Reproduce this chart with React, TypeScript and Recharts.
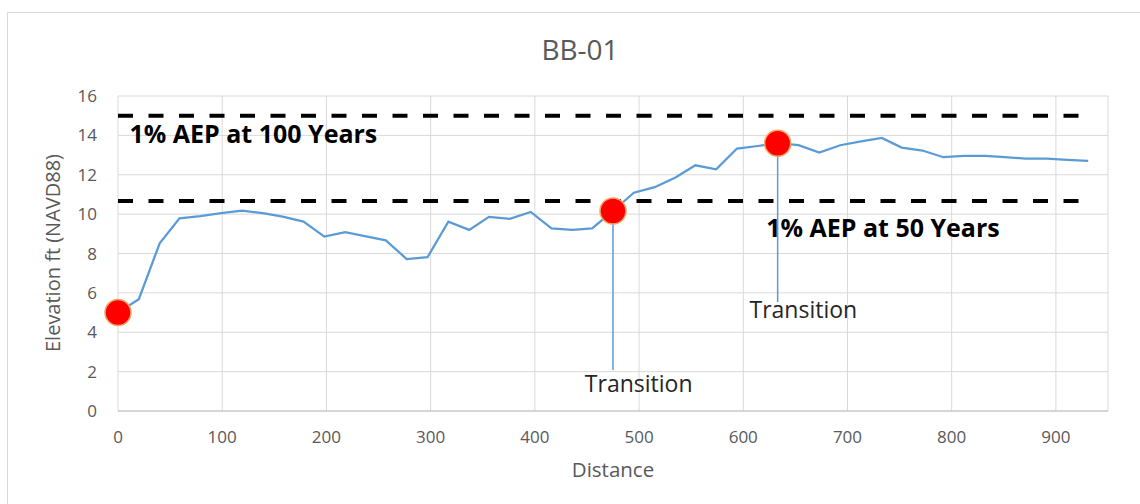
import {
  CartesianGrid,
  ComposedChart,
  Line,
  ReferenceDot,
  ReferenceLine,
  XAxis,
  YAxis,
} from "recharts";

// surveyed profile, distance along transect (ft) vs ground elevation (ft NAVD88)
const distances = [
  0, 20, 40, 59, 79, 99, 119, 139, 158, 178, 198, 218, 238, 257, 277, 297,
  317, 337, 356, 376, 396, 416, 436, 455, 475, 495, 515, 535, 554, 574, 594,
  614, 633, 653, 673, 693, 713, 733, 752, 772, 792, 812, 832, 851, 871, 891,
  911, 931,
];
const elevations = [
  5.0, 5.68, 8.52, 9.79, 9.9, 10.05, 10.18, 10.05, 9.87, 9.62, 8.86, 9.08,
  8.87, 8.67, 7.72, 7.81, 9.62, 9.2, 9.86, 9.76, 10.11, 9.28, 9.2, 9.28, 10.16,
  11.09, 11.37, 11.86, 12.48, 12.28, 13.33, 13.46, 13.6, 13.5, 13.13, 13.5,
  13.69, 13.87, 13.38, 13.23, 12.89, 12.96, 12.96, 12.89, 12.82, 12.82, 12.75,
  12.7,
];

// flood levels
const aepLevels = [15.0, 10.67];
const aepNames = ["1% AEP at 100 Years", "1% AEP at 50 Years"];
const aepSpan = [0, 930];
const aepLabelDistance = [11, 622];
const aepLabelElevation = [13.6, 8.84];

// transition points (indexes into the profile)
const transitionIndex = [0, 24, 32];
const labelledTransitions = [24, 32];
const leaderEndElevation = [2.08, 5.54];
const transitionLabelDistance = [448, 606];
const transitionLabelElevation = [0.97, 4.72];

const xTicks = [0, 100, 200, 300, 400, 500, 600, 700, 800, 900];
const yTicks = [0, 2, 4, 6, 8, 10, 12, 14, 16];

const FONT = "'Open Sans', sans-serif";
const GREY = "#595959";

const profile = distances.map((d, i) => ({
  distance: d,
  elevation: elevations[i],
}));

const aepLines = aepLevels.map((level) =>
  aepSpan.map((d) => ({ distance: d, elevation: level }))
);

const textShape =
  (text: string, style: Record<string, any>) => (props: any) =>
    (
      <text x={props.cx} y={props.cy} fontFamily={FONT} {...style}>
        {text}
      </text>
    );

export default function App() {
  return (
    <div
      style={{
        position: "absolute",
        left: 0,
        top: 0,
        width: 1140,
        height: 504,
        background: "#fff",
        overflow: "hidden",
      }}
    >
      <svg
        width={1140}
        height={504}
        style={{ position: "absolute", left: 0, top: 0 }}
      >
        <path d="M7.5 504 V12.5 H1140" fill="none" stroke="#d9d9d9" />
        <text
          x={580}
          y={60}
          textAnchor="middle"
          fontFamily={FONT}
          fontSize={28}
          fill={GREY}
        >
          BB-01
        </text>
        <text
          x={613}
          y={477}
          textAnchor="middle"
          fontFamily={FONT}
          fontSize={20.5}
          fill={GREY}
        >
          Distance
        </text>
        <text
          transform="translate(60 253) rotate(-90)"
          textAnchor="middle"
          fontFamily={FONT}
          fontSize={20}
          fill={GREY}
        >
          Elevation ft (NAVD88)
        </text>
      </svg>

      <div style={{ position: "absolute", left: 0, top: 0 }}>
        <ComposedChart
          width={1140}
          height={504}
          data={profile}
          margin={{ top: 96, right: 32, bottom: 63, left: 58 }}
        >
          <CartesianGrid stroke="#d9d9d9" />
          <XAxis
            dataKey="distance"
            type="number"
            domain={[0, 950]}
            ticks={xTicks}
            height={30}
            tickSize={0}
            tickMargin={20}
            axisLine={{ stroke: "#bfbfbf" }}
            tickLine={false}
            tick={{ fill: GREY, fontSize: 17, fontFamily: FONT }}
          />
          <YAxis
            type="number"
            domain={[0, 16]}
            ticks={yTicks}
            width={60}
            tickSize={0}
            tickMargin={21}
            axisLine={false}
            tickLine={false}
            tick={{ fill: GREY, fontSize: 17, fontFamily: FONT }}
          />

          {aepLines.map((pts, i) => (
            <Line
              key={aepNames[i]}
              data={pts}
              dataKey="elevation"
              stroke="#000"
              strokeWidth={4}
              strokeDasharray="15 15.5"
              dot={false}
              activeDot={false}
              isAnimationActive={false}
            />
          ))}

          <Line
            dataKey="elevation"
            stroke="#5b9bd5"
            strokeWidth={2.25}
            dot={false}
            activeDot={false}
            isAnimationActive={false}
          />

          {labelledTransitions.map((idx, i) => (
            <ReferenceLine
              key={"leader" + idx}
              segment={[
                { x: distances[idx], y: elevations[idx] },
                { x: distances[idx], y: leaderEndElevation[i] },
              ]}
              stroke="#5b9bd5"
              strokeWidth={1.5}
            />
          ))}

          {transitionIndex.map((idx) => (
            <ReferenceDot
              key={"pt" + idx}
              x={distances[idx]}
              y={elevations[idx]}
              r={13}
              fill="#ff0000"
              stroke="#f4a460"
              strokeWidth={1.5}
              ifOverflow="visible"
            />
          ))}

          {labelledTransitions.map((idx, i) => (
            <ReferenceDot
              key={"lbl" + idx}
              x={transitionLabelDistance[i]}
              y={transitionLabelElevation[i]}
              r={0}
              shape={textShape("Transition", {
                fontSize: 23,
                fill: "#262626",
              })}
            />
          ))}

          {aepNames.map((name, i) => (
            <ReferenceDot
              key={name}
              x={aepLabelDistance[i]}
              y={aepLabelElevation[i]}
              r={0}
              shape={textShape(name, {
                fontSize: 25,
                fontWeight: 700,
                fill: "#000",
              })}
            />
          ))}
        </ComposedChart>
      </div>
    </div>
  );
}
